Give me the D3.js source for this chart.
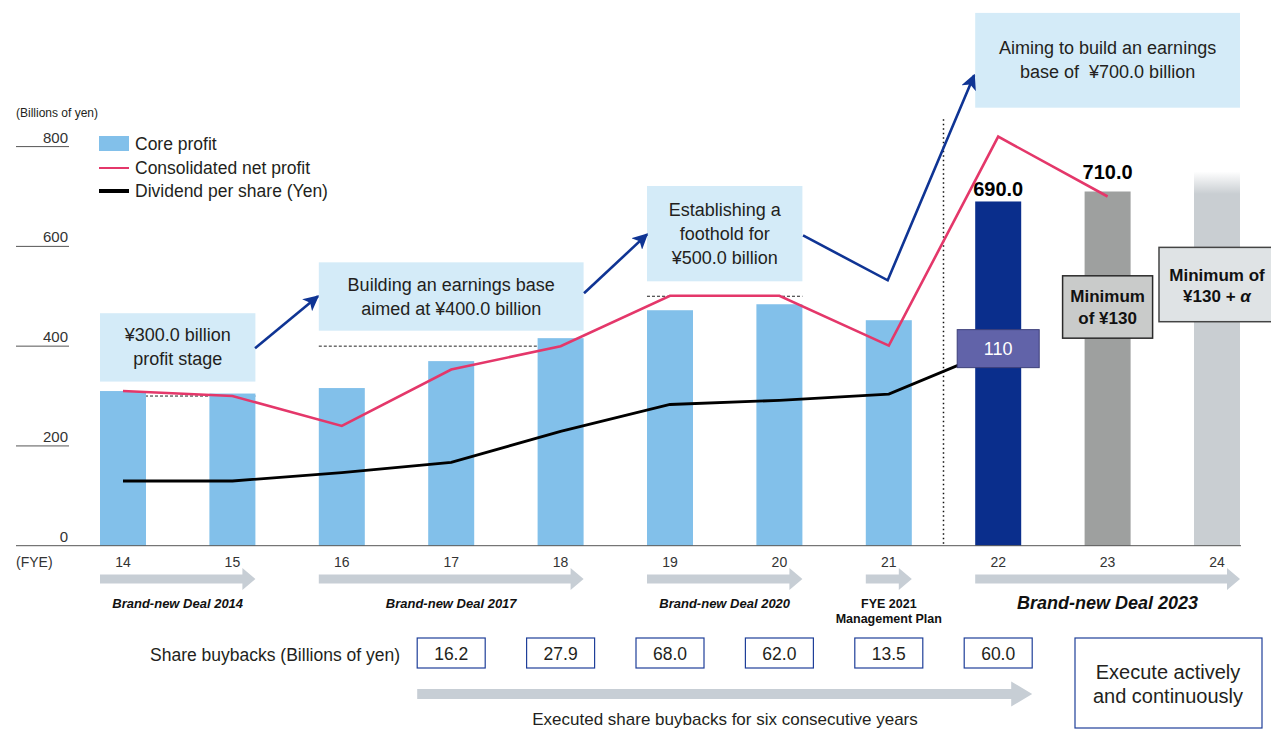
<!DOCTYPE html>
<html><head><meta charset="utf-8">
<script src="https://cdn.jsdelivr.net/npm/d3@7"></script>
<style>
html,body{margin:0;padding:0;background:#fff;}
svg text{font-family:"Liberation Sans",Arial,Helvetica,sans-serif;}
</style></head>
<body>
<svg id="chart" width="1271" height="730"></svg>
<script>
// ---- data ----
const years = ["14","15","16","17","18","19","20","21","22","23","24"];
const coreProfit = [310, 305, 316, 370, 416, 472, 484, 452, 690, 710, 750];
const netProfit = [310, 300, 240, 353, 400, 501, 501, 401, 820, 700];
const dividend = [46, 46, 50, 55, 70, 83, 85, 88, 110];
const yTicks = [0, 200, 400, 600, 800];
const buybackYears = ["17","18","19","20","21","22"];
const buybacks = [16.2, 27.9, 68.0, 62.0, 13.5, 60.0];
const dealLabels = [
  {from:"14", to:"15", text:"Brand-new Deal 2014", big:false},
  {from:"16", to:"18", text:"Brand-new Deal 2017", big:false},
  {from:"19", to:"20", text:"Brand-new Deal 2020", big:false},
  {from:"21", to:"21", text:"FYE 2021|Management Plan", plan:true},
  {from:"22", to:"24", text:"Brand-new Deal 2023", big:true}
];
const targetBoxes = [
  {from:"14", to:"15", top:466, bottom:329, level:300, lines:["¥300.0 billion","profit stage"]},
  {from:"16", to:"18", top:568, bottom:431, level:400, lines:["Building an earnings base","aimed at ¥400.0 billion"]},
  {from:"19", to:"20", top:721, bottom:530, level:500, lines:["Establishing a","foothold for","¥500.0 billion"]},
  {from:"22", to:"24", top:1068, bottom:878, level:null, lines:["Aiming to build an earnings","base of  ¥700.0 billion"]}
];
// navy growth arrows, in (year index, value) units
const growthArrows = [
  [[1.207, 396], [1.782, 500]],
  [[4.214, 506], [4.79, 624]],
  [[6.216, 622], [6.99, 532], [7.78, 943]]
];

// ---- colors ----
const C = {
  core:"#82c0ea", red:"#e4376a", black:"#000", navy:"#0f3494",
  bar22:"#0a2e8c", bar23:"#9ea09f", bar24:"#c9ced2",
  boxFill:"#d4ebf8", arrow:"#c7ced5", text:"#231f20"
};

const svg = d3.select("#chart");
const defs = svg.append("defs");
defs.append("marker").attr("id","navyHead").attr("viewBox","0 0 10 10")
  .attr("refX",9).attr("refY",5).attr("markerWidth",6).attr("markerHeight",6)
  .attr("markerUnits","strokeWidth").attr("orient","auto")
  .append("path").attr("d","M0,0 L10,5 L0,10 L2.5,5 Z").attr("fill",C.navy);
const grad = defs.append("linearGradient").attr("id","fade24")
  .attr("x1",0).attr("x2",0).attr("y1",0).attr("y2",1);
grad.append("stop").attr("offset","0").attr("stop-color","#fff");
grad.append("stop").attr("offset","0.06").attr("stop-color",C.bar24);
grad.append("stop").attr("offset","1").attr("stop-color",C.bar24);

// ---- scales ----
const x = d3.scaleBand().domain(years).range([100, 1240]).paddingInner(0.5795).paddingOuter(0);
const y = d3.scaleLinear().domain([0, 800]).range([545.7, 146.6]);
const yDiv = d3.scaleLinear().domain([0, 110]).range([y(-61), y(395)]);
const bw = x.bandwidth();
const xc = k => x(k) + bw/2;
const xi = i => x(years[0]) + bw/2 + i * x.step();

// ---- y axis (short tick lines) ----
svg.append("text").attr("x",16).attr("y",117).attr("font-size",12).attr("fill",C.text).text("(Billions of yen)");
const yAxis = svg.append("g");
yAxis.selectAll("line.tk").data(yTicks.filter(d=>d>0)).join("line")
  .attr("x1",16).attr("x2",69).attr("y1",d=>y(d)).attr("y2",d=>y(d))
  .attr("stroke","#555").attr("stroke-width",1);
yAxis.selectAll("text").data(yTicks).join("text")
  .attr("x",68).attr("y",d=>y(d)-4).attr("text-anchor","end")
  .attr("font-size",15).attr("fill","#333").text(d=>d);

// ---- target boxes + dotted levels ----
targetBoxes.forEach(b=>{
  const x0 = x(b.from), x1 = x(b.to)+bw;
  svg.append("rect").attr("x",x0).attr("y",y(b.top)).attr("width",x1-x0)
    .attr("height",y(b.bottom)-y(b.top)).attr("fill",C.boxFill);
  const cy = (y(b.top)+y(b.bottom))/2;
  const n = b.lines.length, lh = 24;
  b.lines.forEach((t,i)=>{
    svg.append("text").attr("x",(x0+x1)/2).attr("y",cy + (i-(n-1)/2)*lh + 6)
      .attr("text-anchor","middle").attr("font-size",18).attr("fill",C.text)
      .attr("xml:space","preserve").text(t);
  });
  if(b.level!==null){
    svg.append("line").attr("x1",x0).attr("x2",x1).attr("y1",y(b.level)).attr("y2",y(b.level))
      .attr("stroke","#222").attr("stroke-width",1).attr("stroke-dasharray","3,2");
  }
});

// ---- bars ----
const barColor = (d,i)=> i===8?C.bar22 : i===9?C.bar23 : i===10?"url(#fade24)" : C.core;
svg.append("g").selectAll("rect").data(coreProfit).join("rect")
  .attr("x",(d,i)=>x(years[i])).attr("width",bw)
  .attr("y",d=>y(d)).attr("height",d=>y(0)-y(d))
  .attr("fill",barColor);

// baseline
svg.append("line").attr("x1",16).attr("x2",1241).attr("y1",y(0)).attr("y2",y(0))
  .attr("stroke","#555").attr("stroke-width",1);

// vertical dotted divider
svg.append("line").attr("x1",(x("21")+bw+x("22"))/2).attr("x2",(x("21")+bw+x("22"))/2)
  .attr("y1",y(855)).attr("y2",y(0))
  .attr("stroke","#111").attr("stroke-width",1.5).attr("stroke-dasharray","1.5,3");

// ---- navy growth arrows ----
const la = d3.line().x(d=>xi(d[0])).y(d=>y(d[1]));
growthArrows.forEach(pts=>{
  svg.append("path").attr("d",la(pts)).attr("fill","none")
    .attr("stroke",C.navy).attr("stroke-width",2.6).attr("marker-end","url(#navyHead)");
});

// ---- lines ----
const lineNet = d3.line().x((d,i)=>xc(years[i])).y(d=>y(d));
svg.append("path").attr("d",lineNet(netProfit)).attr("fill","none")
  .attr("stroke",C.red).attr("stroke-width",2.6).attr("stroke-linejoin","miter");
const lineDiv = d3.line().x((d,i)=>xc(years[i])).y(d=>yDiv(d));
svg.append("path").attr("d",lineDiv(dividend)).attr("fill","none")
  .attr("stroke",C.black).attr("stroke-width",2.8);

// ---- value labels on 22/23 ----
svg.append("text").attr("x",xc("22")).attr("y",y(coreProfit[8])-5).attr("text-anchor","middle")
  .attr("font-size",20).attr("font-weight","bold").attr("fill","#000").text(coreProfit[8].toFixed(1));
svg.append("text").attr("x",xc("23")).attr("y",y(coreProfit[9])-12).attr("text-anchor","middle")
  .attr("font-size",20).attr("font-weight","bold").attr("fill","#000").text(coreProfit[9].toFixed(1));

// ---- dividend boxes ----
const d22 = yDiv(dividend[8]);
svg.append("rect").attr("x",xc("22")-41).attr("y",d22-19).attr("width",82).attr("height",38)
  .attr("fill","#6163a9").attr("stroke","#3d3f7a").attr("stroke-width",1);
svg.append("text").attr("x",xc("22")).attr("y",d22+6).attr("text-anchor","middle")
  .attr("font-size",18).attr("fill","#fff").text(dividend[8]);

svg.append("rect").attr("y",y(541)).attr("height",y(416)-y(541))
  .attr("x",xc("23")-45).attr("width",90)
  .attr("fill","#c9cbca").attr("stroke","#2a2a2a").attr("stroke-width",1.5);
svg.append("text").attr("x",xc("23")).attr("y",y(488)).attr("text-anchor","middle")
  .attr("font-size",17).attr("font-weight","bold").attr("fill","#111").text("Minimum");
svg.append("text").attr("x",xc("23")).attr("y",y(445)).attr("text-anchor","middle")
  .attr("font-size",17).attr("font-weight","bold").attr("fill","#111").text("of ¥130");

svg.append("rect").attr("x",xc("24")-58).attr("y",y(598)).attr("width",130).attr("height",y(449)-y(598))
  .attr("fill","#dfe3e5").attr("stroke","#444").attr("stroke-width",1.5);
svg.append("text").attr("x",xc("24")).attr("y",y(531)).attr("text-anchor","middle")
  .attr("font-size",17).attr("font-weight","bold").attr("fill","#111").text("Minimum of");
const t2 = svg.append("text").attr("x",xc("24")).attr("y",y(489)).attr("text-anchor","middle")
  .attr("font-size",17).attr("font-weight","bold").attr("fill","#111");
t2.append("tspan").text("¥130 + ");
t2.append("tspan").attr("font-style","italic").text("α");

// ---- legend ----
const lg = svg.append("g").attr("transform","translate(99,136)");
lg.append("rect").attr("x",0).attr("y",0).attr("width",30).attr("height",15).attr("fill",C.core);
lg.append("text").attr("x",36).attr("y",14).attr("font-size",17.5).attr("fill",C.text).text("Core profit");
lg.append("line").attr("x1",0).attr("x2",30).attr("y1",32).attr("y2",32).attr("stroke",C.red).attr("stroke-width",2);
lg.append("text").attr("x",36).attr("y",37.5).attr("font-size",17.5).attr("fill",C.text).text("Consolidated net profit");
lg.append("line").attr("x1",0).attr("x2",30).attr("y1",55).attr("y2",55).attr("stroke","#000").attr("stroke-width",4);
lg.append("text").attr("x",36).attr("y",61).attr("font-size",17.5).attr("fill",C.text).text("Dividend per share (Yen)");

// ---- x axis labels ----
svg.append("text").attr("x",16).attr("y",567).attr("font-size",14).attr("fill","#333").text("(FYE)");
svg.append("g").selectAll("text").data(years).join("text")
  .attr("x",d=>xc(d)).attr("y",567).attr("text-anchor","middle")
  .attr("font-size",14).attr("fill","#333").text(d=>d);

// ---- gray period arrows ----
function grayArrow(x0, x1, yc, shaftH, headH, headL){
  svg.append("path").attr("fill",C.arrow).attr("d",
    `M${x0},${yc-shaftH/2} L${x1-headL},${yc-shaftH/2} L${x1-headL},${yc-headH/2} L${x1},${yc} L${x1-headL},${yc+headH/2} L${x1-headL},${yc+shaftH/2} L${x0},${yc+shaftH/2} Z`);
}
dealLabels.forEach(d=>{
  const x0 = x(d.from), x1 = x(d.to)+bw;
  grayArrow(x0, x1, 579, 9, 22, 13);
  const cx = (x0+x1)/2;
  if(d.plan){
    const [a,b] = d.text.split("|");
    svg.append("text").attr("x",cx).attr("y",608).attr("text-anchor","middle").attr("font-size",12.5)
      .attr("font-weight","bold").attr("fill","#111").text(a);
    svg.append("text").attr("x",cx).attr("y",623).attr("text-anchor","middle").attr("font-size",12.5)
      .attr("font-weight","bold").attr("fill","#111").text(b);
  } else {
    svg.append("text").attr("x",cx).attr("y",d.big?609:608).attr("text-anchor","middle")
      .attr("font-size",d.big?18:13).attr("font-weight","bold").attr("font-style","italic")
      .attr("fill","#111").text(d.text);
  }
});

// ---- share buybacks row ----
svg.append("text").attr("x",400).attr("y",661).attr("text-anchor","end")
  .attr("font-size",17.5).attr("fill",C.text).text("Share buybacks (Billions of yen)");
const bbHalf = 34;
const bb = svg.append("g").selectAll("g").data(buybacks).join("g");
bb.append("rect").attr("x",(d,i)=>xc(buybackYears[i])-bbHalf).attr("y",638).attr("width",bbHalf*2).attr("height",30)
  .attr("fill","#fff").attr("stroke","#1f3f99").attr("stroke-width",1.2);
bb.append("text").attr("x",(d,i)=>xc(buybackYears[i])).attr("y",660).attr("text-anchor","middle")
  .attr("font-size",17.5).attr("fill",C.text).text(d=>d.toFixed(1));

svg.append("rect").attr("x",1075).attr("y",638).attr("width",187).attr("height",90)
  .attr("fill","#fff").attr("stroke","#1f3f99").attr("stroke-width",1.2);
svg.append("text").attr("x",1168).attr("y",679).attr("text-anchor","middle").attr("font-size",20).attr("fill",C.text).text("Execute actively");
svg.append("text").attr("x",1168).attr("y",703).attr("text-anchor","middle").attr("font-size",20).attr("fill",C.text).text("and continuously");

grayArrow(xc(buybackYears[0])-bbHalf, xc(buybackYears[buybackYears.length-1])+bbHalf, 694, 10, 25, 21);
svg.append("text").attr("x",725).attr("y",725).attr("text-anchor","middle")
  .attr("font-size",17).attr("fill",C.text).text("Executed share buybacks for six consecutive years");
</script>
</body></html>
